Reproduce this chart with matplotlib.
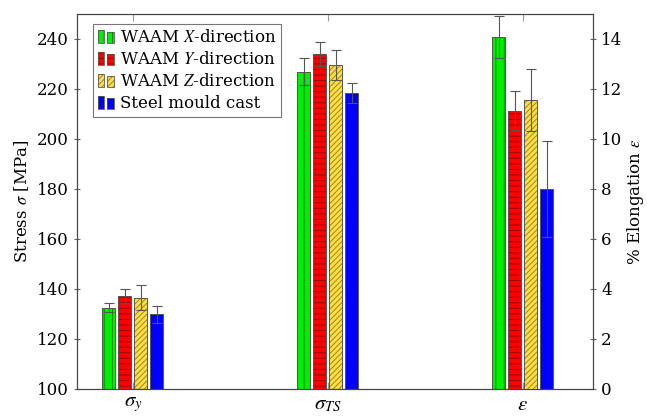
import numpy as np
import matplotlib
matplotlib.use("Agg")
import matplotlib.pyplot as plt
from matplotlib.patches import Rectangle
from matplotlib.legend_handler import HandlerBase

plt.rcParams['font.family'] = ['DejaVu Serif']
plt.rcParams['mathtext.fontset'] = 'stix'
plt.rcParams['hatch.linewidth'] = 0.7

# data
categories = [r'$\sigma_y$', r'$\sigma_{TS}$', r'$\epsilon$']
series = ['WAAM $X$-direction', 'WAAM $Y$-direction', 'WAAM $Z$-direction', 'Steel mould cast']
sigma_y = [132.4, 137.2, 136.5, 129.8]
sigma_y_err = [1.8, 2.7, 5.0, 3.3]
sigma_ts = [226.9, 234.0, 229.6, 218.3]
sigma_ts_err = [5.4, 4.9, 6.0, 4.0]
elong = [14.07, 11.12, 11.56, 8.0]
elong_err = [0.83, 0.78, 1.24, 1.93]

colors = ['#00ee00', '#ff0000', '#ffdd44', '#0000ff']
hatch_colors = ['#008800', '#990000', '#998822', '#0000ff']
hatches = ['||', '---', '//////', '']
edge = '#555555'


def hatched_bar(a, xs, ys, i, width):
    # fill + coloured hatch, then a grey outline on top
    a.bar(xs, ys, width, color=colors[i], edgecolor=hatch_colors[i],
          hatch=hatches[i], lw=0, zorder=2)
    return a.bar(xs, ys, width, fill=False, edgecolor=edge, lw=0.7, zorder=2.5)


class TwoBarHandler(HandlerBase):
    # pgfplots-style legend image: two little bars
    def __init__(self, i):
        super().__init__()
        self.i = i

    def create_artists(self, legend, orig, xd, yd, w, h, fontsize, trans):
        bw = w * 0.38
        arts = []
        for x0, hh in [(0, h * 1.15), (w * 0.55, h * 0.95)]:
            r = Rectangle((x0 - xd, -yd - 0.1 * h), bw, hh,
                          facecolor=colors[self.i], edgecolor=hatch_colors[self.i],
                          hatch=hatches[self.i], lw=0, transform=trans)
            r2 = Rectangle((x0 - xd, -yd - 0.1 * h), bw, hh, fill=False,
                           edgecolor=edge, lw=0.6, transform=trans)
            arts += [r, r2]
        return arts


fig = plt.figure(figsize=(6.47, 4.19), dpi=100)
ax = fig.add_axes([0.119, 0.0716, 0.7975, 0.895])
ax2 = ax.twinx()

x = np.arange(len(categories))
width = 0.067
pitch = 0.082
handles = []
for i in range(4):
    xi = x[:2] + (i - 1.5) * pitch
    b = hatched_bar(ax, xi, [sigma_y[i], sigma_ts[i]], i, width)
    ax.errorbar(xi, [sigma_y[i], sigma_ts[i]], yerr=[sigma_y_err[i], sigma_ts_err[i]],
                fmt='none', ecolor='#555555', elinewidth=0.8, capsize=3.5, capthick=0.8, zorder=3)
    xe = x[2] + (i - 1.5) * pitch
    hatched_bar(ax2, [xe], [elong[i]], i, width)
    ax2.errorbar([xe], [elong[i]], yerr=[elong_err[i]], fmt='none', ecolor='#555555',
                 elinewidth=0.8, capsize=3.5, capthick=0.8, zorder=3)
    handles.append(b.patches[0])

ax.set_xlim(-0.287, 2.36)
ax.set_ylim(100, 250)
ax2.set_ylim(0, 15)
ax.set_yticks(np.arange(100, 241, 20))
ax2.set_yticks(np.arange(0, 15, 2))
ax.set_xticks(x)
ax.set_xticklabels(categories, fontsize=15)

ax.set_ylabel(r'Stress $\sigma$ [MPa]', fontsize=12)
ax2.set_ylabel(r'% Elongation $\epsilon$', fontsize=12, labelpad=2)

for a in (ax, ax2):
    for s in a.spines.values():
        s.set_color('#444444')
    a.tick_params(axis='y', direction='inout', length=5, color='#666666', labelsize=12)
ax.tick_params(axis='x', direction='in', length=5, color='#999999', top=True, pad=4)

leg = ax2.legend(handles, series, loc='upper left', bbox_to_anchor=(0.015, 0.995),
                 handler_map={h: TwoBarHandler(k) for k, h in enumerate(handles)},
                 handlelength=1.0, handletextpad=0.3, labelspacing=0.3,
                 fontsize=12, fancybox=False, edgecolor='#777777', framealpha=1,
                 borderpad=0.3)
leg.get_frame().set_linewidth(0.8)

fig.savefig('out.png', dpi=100)
